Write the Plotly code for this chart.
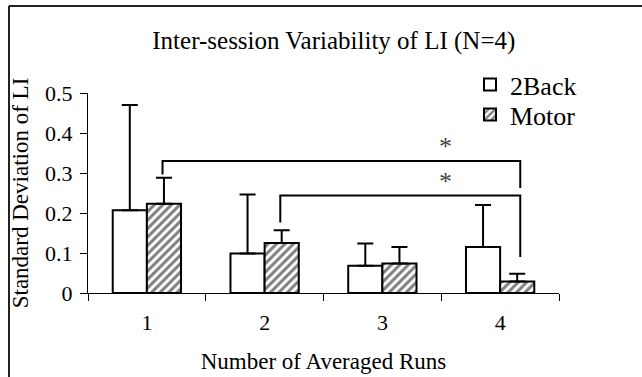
import plotly.graph_objects as go

# ---- data ----
categories = ["1", "2", "3", "4"]
twoback_sd = [0.207, 0.099, 0.068, 0.115]
twoback_err = [0.263, 0.147, 0.056, 0.105]
motor_sd = [0.223, 0.125, 0.074, 0.029]
motor_err = [0.065, 0.032, 0.041, 0.019]
y_ticks = [0, 0.1, 0.2, 0.3, 0.4, 0.5]
y_tick_labels = ["0", "0.1", "0.2", "0.3", "0.4", "0.5"]

# significance brackets (category index from -> to)
bracket_from = [0, 1]
bracket_to = [3, 3]
bracket_level = [0.33, 0.244]
bracket_left_drop = [0.296, 0.1765]
bracket_right_drop = [0.2625, 0.09]
bracket_label = ["*", "*"]
star_x = [2.54, 2.54]
star_y = [0.367, 0.28]

FONT = "Liberation Serif"
zeros = [0] * len(categories)

fig = go.Figure()
fig.add_trace(go.Bar(
    name="2Back", x=categories, y=twoback_sd, legend="legend",
    marker=dict(color="white", line=dict(color="black", width=2)),
    error_y=dict(type="data", symmetric=False, array=twoback_err, arrayminus=zeros,
                 color="black", thickness=2, width=8),
))
fig.add_trace(go.Bar(
    name="Motor", x=categories, y=motor_sd, legend="legend2",
    marker=dict(color="white", line=dict(color="black", width=2),
                pattern=dict(shape="/", fgcolor="black", bgcolor="white", size=6, solidity=0.5)),
    error_y=dict(type="data", symmetric=False, array=motor_err, arrayminus=zeros,
                 color="black", thickness=2, width=8),
))

left_off = 0.133
right_off = 0.171
for f, t, lvl, ld, rd in zip(bracket_from, bracket_to, bracket_level,
                             bracket_left_drop, bracket_right_drop):
    xl = f + left_off
    xr = t + right_off
    fig.add_shape(type="path", xref="x", yref="y",
                  path=f"M {xl},{ld} L {xl},{lvl} L {xr},{lvl} L {xr},{rd}",
                  line=dict(color="black", width=2))
for sx, sy, lab in zip(star_x, star_y, bracket_label):
    fig.add_annotation(x=sx, y=sy, xref="x", yref="y", text=lab, showarrow=False,
                       font=dict(family=FONT, size=26, color="#444"))

# outer frame of the figure (top and left edges)
px_l, px_w = 88, 471
py_b, py_h = 293, 200
def px2x(p):
    return (p - px_l) / px_w
def py2y(p):
    return (py_b - p) / py_h
fig.add_shape(type="line", xref="paper", yref="paper",
              x0=px2x(9), x1=px2x(645), y0=py2y(6), y1=py2y(6),
              line=dict(color="#222", width=2))
fig.add_shape(type="line", xref="paper", yref="paper",
              x0=px2x(9), x1=px2x(9), y0=py2y(6), y1=py2y(380),
              line=dict(color="#222", width=2))

legend_common = dict(xanchor="left", yanchor="top", font=dict(family=FONT, size=26, color="black"),
                     bgcolor="rgba(0,0,0,0)", itemwidth=30)

fig.update_layout(
    width=642, height=377,
    margin=dict(l=88, r=83, t=93, b=84),
    paper_bgcolor="white", plot_bgcolor="white",
    font=dict(family=FONT, color="black", size=22),
    title=dict(text="Inter-session Variability of LI (N=4)", x=0.52, xanchor="center",
               y=1 - 40 / 377, yanchor="middle",
               font=dict(family=FONT, size=25, color="black")),
    barmode="group", bargap=0.42, bargroupgap=0,
    showlegend=True,
    legend=dict(x=px2x(470), y=py2y(61), **legend_common),
    legend2=dict(x=px2x(470), y=py2y(91), **legend_common),
    xaxis=dict(type="category", tickson="boundaries", ticks="outside", ticklen=7,
               tickcolor="black", tickwidth=1, showline=True, linecolor="black",
               linewidth=1, showgrid=False, zeroline=False, ticklabelstandoff=10,
               automargin=False,
               tickfont=dict(family=FONT, size=22),
               title=dict(text="Number of Averaged Runs", standoff=18,
                          font=dict(family=FONT, size=23))),
    yaxis=dict(range=[0, 0.5], tickvals=y_ticks, ticktext=y_tick_labels,
               ticks="outside", ticklen=7, tickcolor="black", tickwidth=1,
               showline=True, linecolor="black", linewidth=1,
               showgrid=False, zeroline=False, ticklabelstandoff=3,
               automargin=False,
               tickfont=dict(family=FONT, size=22),
               title=dict(text="Standard Deviation of LI", standoff=10,
                          font=dict(family=FONT, size=23))),
)

fig.write_html("out.html", config={"displayModeBar": False},
               post_script="document.body.style.margin='0';")
